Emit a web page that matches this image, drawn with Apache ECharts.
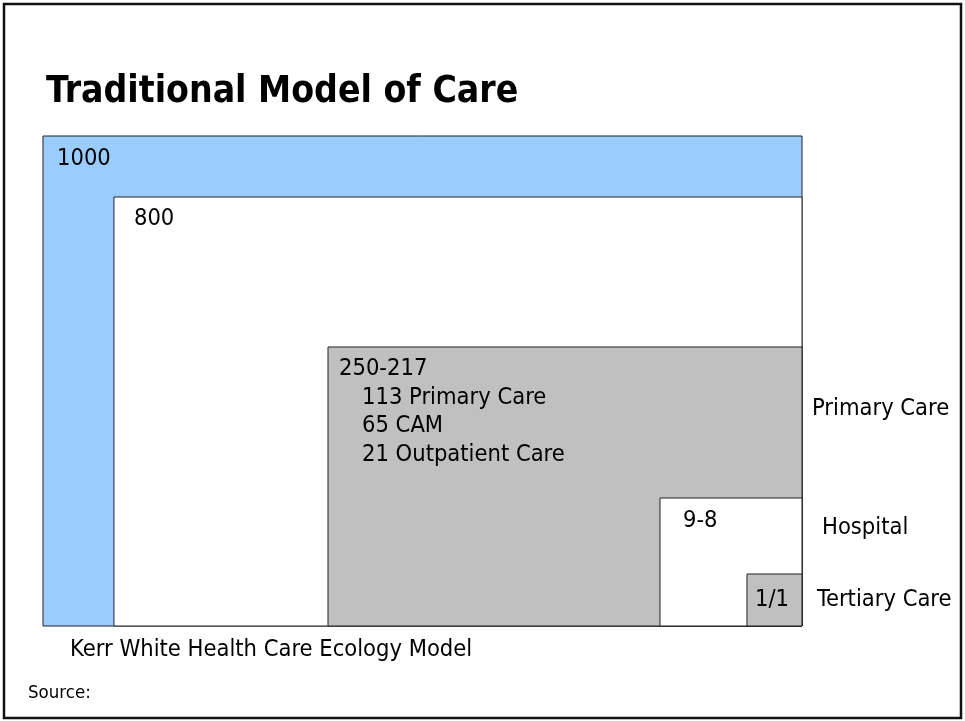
<!DOCTYPE html>
<html>
<head>
<meta charset="utf-8">
<title>Traditional Model of Care</title>
<script src="https://cdn.jsdelivr.net/npm/echarts@6.0.0/dist/echarts.min.js"></script>
<style>
    html, body { margin: 0; padding: 0; background: #fff; }
    #chart { width: 965px; height: 721px; }
</style>
</head>
<body>
<div id="chart"></div>
<script>
// nested boxes, all anchored to the bottom-right corner (percent of the outer box)
const boxLabels = ['1000', '800', '250-217', '9-8', '1/1'];
const boxLeft = [0, 9.35, 37.55, 81.29, 92.75];
const boxTop = [100, 87.55, 56.94, 26.12, 10.61];
const breakdown = ['113 Primary Care', '65 CAM', '21 Outpatient Care'];
const levelNames = ['', '', 'Primary Care', 'Hospital', 'Tertiary Care'];

// styling / layout, kept apart from the data
const boxFill = ['#99CCFF', '#FFFFFF', '#C0C0C0', '#FFFFFF', '#C0C0C0'];
const labelPad = [[14, 22.5], [20, 21.5], [11, 22], [23, 23], [8, 26]];
const sidePad = [null, null, [10, 62], [20, 30], [15, 26]];
const FONT = '"DejaVu Sans Condensed", "DejaVu Sans", Tahoma, sans-serif';
const bodyFont = '23.5px ' + FONT;

const chart = echarts.init(document.getElementById('chart'));

function renderBox(params, api) {
    const i = params.dataIndex;
    const p0 = api.coord([api.value(0), api.value(1)]);
    const p1 = api.coord([100, 0]);
    const children = [{
        type: 'rect',
        shape: { x: p0[0], y: p0[1], width: p1[0] - p0[0], height: p1[1] - p0[1] },
        style: { fill: boxFill[i], stroke: '#222', lineWidth: 1 }
    }, {
        type: 'text',
        x: p0[0] + labelPad[i][0],
        y: p0[1] + labelPad[i][1],
        style: { text: boxLabels[i], font: bodyFont, fill: '#000', verticalAlign: 'middle' }
    }];
    if (i === 2) {
        breakdown.forEach((t, k) => {
            children.push({
                type: 'text',
                x: p0[0] + labelPad[i][0] + 23,
                y: p0[1] + labelPad[i][1] + 28.5 * (k + 1),
                style: { text: t, font: bodyFont, fill: '#000', verticalAlign: 'middle' }
            });
        });
    }
    if (levelNames[i]) {
        children.push({
            type: 'text',
            x: p1[0] + sidePad[i][0],
            y: p0[1] + sidePad[i][1],
            style: { text: levelNames[i], font: bodyFont, fill: '#000', verticalAlign: 'middle' }
        });
    }
    return { type: 'group', children: children };
}

chart.setOption({
    animation: false,
    grid: { left: 43, top: 136, right: 163, bottom: 95 },
    xAxis: { type: 'value', min: 0, max: 100, show: false },
    yAxis: { type: 'value', min: 0, max: 100, show: false },
    graphic: [
        {
            type: 'rect',
            shape: { x: 4, y: 4, width: 957, height: 714 },
            style: { fill: 'none', stroke: '#111', lineWidth: 2.5 }
        },
        {
            type: 'text', x: 46, y: 92,
            style: { text: 'Traditional Model of Care', font: 'bold 37px ' + FONT, fill: '#000', verticalAlign: 'middle' }
        },
        {
            type: 'text', x: 70, y: 649.5,
            style: { text: 'Kerr White Health Care Ecology Model', font: bodyFont, fill: '#000', verticalAlign: 'middle' }
        },
        {
            type: 'text', x: 28, y: 693,
            style: { text: 'Source:', font: '18.5px ' + FONT, fill: '#000', verticalAlign: 'middle' }
        }
    ],
    series: [{
        type: 'custom',
        renderItem: renderBox,
        data: boxLabels.map((name, i) => [boxLeft[i], boxTop[i]]),
        silent: true
    }]
});
</script>
</body>
</html>
